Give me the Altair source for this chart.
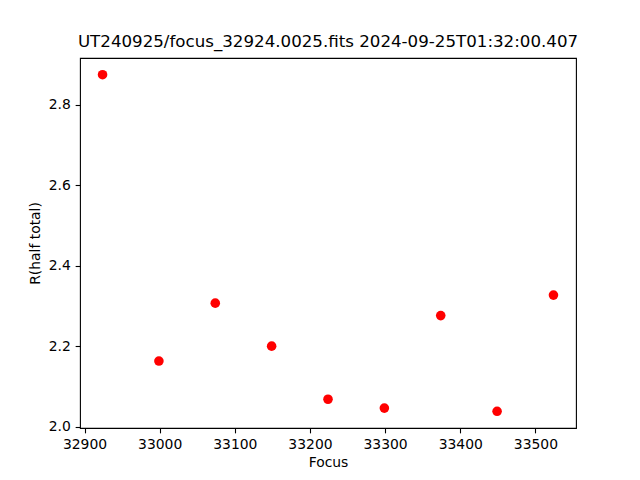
import altair as alt
import pandas as pd

focus = [32924, 32999, 33074, 33149, 33224, 33299, 33374, 33449, 33524]
r_half = [2.875, 2.163, 2.307, 2.200, 2.068, 2.046, 2.276, 2.038, 2.327]
x_ticks = [32900, 33000, 33100, 33200, 33300, 33400, 33500]
y_ticks = [2.0, 2.2, 2.4, 2.6, 2.8]
title_text = "UT240925/focus_32924.0025.fits 2024-09-25T01:32:00.407"

df = pd.DataFrame({"Focus": focus, "R": r_half})

font = "DejaVu Sans"

chart = alt.Chart(df).mark_point(
    filled=True, shape="circle", color="#ff0000", size=92, opacity=1
).encode(
    x=alt.X("Focus:Q",
            scale=alt.Scale(domain=[32894, 33554], nice=False, zero=False),
            axis=alt.Axis(values=x_ticks, format="d", title="Focus",
                          titlePadding=4)),
    y=alt.Y("R:Q",
            scale=alt.Scale(domain=[1.9965, 2.9165], nice=False, zero=False),
            axis=alt.Axis(values=y_ticks, format=".1f", title="R(half total)",
                          titlePadding=6)),
).properties(
    width=496,
    height=370,
    title=alt.TitleParams(title_text, anchor="middle", fontSize=16.67, font=font,
                          fontWeight="normal", color="black", offset=7),
    autosize=alt.AutoSizeParams(type="none"),
    padding={"left": 72, "top": 50, "right": 56, "bottom": 44},
).configure_view(
    stroke="black", strokeWidth=1.1
).configure_axis(
    grid=False, domain=False,
    tickColor="black", tickSize=4.86, tickWidth=1.1,
    labelFont=font, labelFontSize=13.9, labelColor="black", labelPadding=4.86,
    titleFont=font, titleFontSize=13.9, titleColor="black", titleFontWeight="normal",
)

chart.save("out.html", embed_options={"renderer": "svg", "actions": False})
